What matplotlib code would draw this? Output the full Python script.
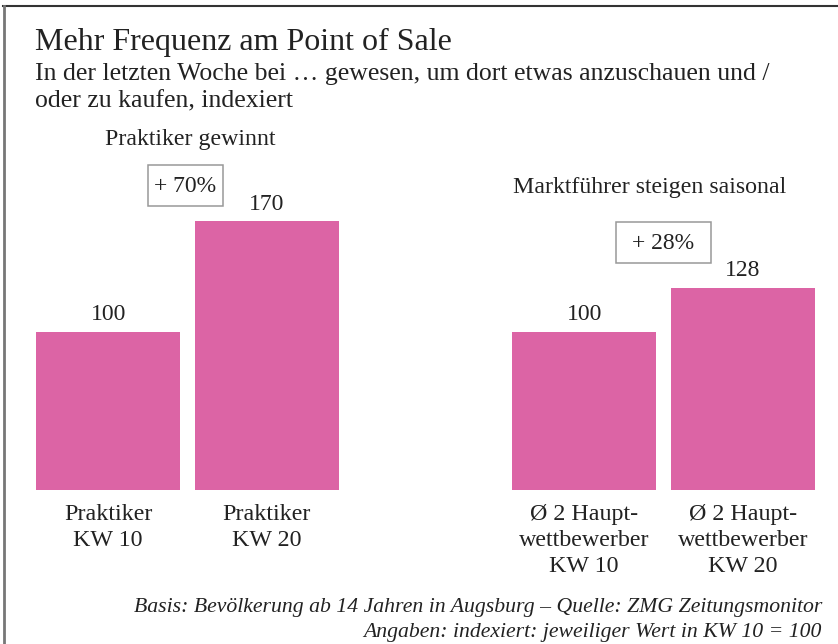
import matplotlib
matplotlib.use("Agg")
import matplotlib.pyplot as plt
from matplotlib.lines import Line2D
from matplotlib.patches import Rectangle

# data
labels = ["Praktiker\nKW 10", "Praktiker\nKW 20",
          "Ø 2 Haupt-\nwettbewerber\nKW 10", "Ø 2 Haupt-\nwettbewerber\nKW 20"]
values = [100, 170, 100, 128]
positions = [0, 1, 3, 4]
group_titles = ["Praktiker gewinnt", "Marktführer steigen saisonal"]
changes = ["+ 70%", "+ 28%"]

title = "Mehr Frequenz am Point of Sale"
subtitle = ("In der letzten Woche bei … gewesen, um dort etwas anzuschauen und /\n"
            "oder zu kaufen, indexiert")
footer = ("Basis: Bevölkerung ab 14 Jahren in Augsburg – Quelle: ZMG Zeitungsmonitor\n"
          "Angaben: indexiert: jeweiliger Wert in KW 10 = 100")

PINK = "#DC64A5"
TXT = "#222222"
plt.rcParams["font.family"] = ["Liberation Serif", "DejaVu Serif"]

W, H = 838, 644
fig = plt.figure(figsize=(W / 100, H / 100), dpi=100)

def fx(px):
    return px / W

def fy(py):
    return 1 - py / H

# axes: left edge of first bar at 36px, right edge of last at 815px, baseline at 490px
bw = 0.91
x0, x1 = positions[0] - bw / 2, positions[-1] + bw / 2
ymax = 200
ax = fig.add_axes([fx(36), (H - 490) / H, (815 - 36) / W, (ymax * 1.58) / H])
ax.bar(positions, values, width=bw, color=PINK)
ax.set_xlim(x0, x1)
ax.set_ylim(0, ymax)
ax.axis("off")

for p, v, lab in zip(positions, values, labels):
    ax.annotate(str(v), (p, v), xytext=(0, 12.5), textcoords="offset points",
                ha="center", va="center", fontsize=17, color=TXT)
    ax.annotate(lab, (p, 0), xytext=(0, -10), textcoords="offset points",
                ha="center", va="top", fontsize=17.3, color=TXT, linespacing=1.33)

# percent boxes and group titles
for txt, (l, t, r, b) in zip(changes, [(148, 165, 223, 206), (616, 222, 711, 263)]):
    fig.add_artist(Rectangle((fx(l), fy(b)), fx(r) - fx(l), fy(t) - fy(b),
                             transform=fig.transFigure, fc="white",
                             ec="#999999", lw=1.1))
    fig.text(fx((l + r) / 2), fy((t + b) / 2 + 1), txt, ha="center", va="center",
             fontsize=17, color=TXT)

fig.text(fx(190), fy(140), group_titles[0], ha="center", va="center",
         fontsize=17.2, color=TXT)
fig.text(fx(513), fy(188), group_titles[1], ha="left", va="center",
         fontsize=17.2, color=TXT)

# header / footer
fig.text(fx(35), fy(42), title, ha="left", va="center", fontsize=23, color=TXT)
fig.text(fx(35), fy(63), subtitle, ha="left", va="top", fontsize=18.5,
         color=TXT, linespacing=1.32)
fig.text(fx(822), fy(642), footer, ha="right", va="bottom", fontsize=15.7,
         style="italic", color=TXT, linespacing=1.42)

# frame lines (top and left)
fig.add_artist(Line2D([fx(3), 1], [fy(6), fy(6)], transform=fig.transFigure,
                      color="#333333", lw=1.5))
fig.add_artist(Line2D([fx(4), fx(4)], [0, fy(6)], transform=fig.transFigure,
                      color="#777777", lw=2))

fig.savefig("out.png", dpi=100)
